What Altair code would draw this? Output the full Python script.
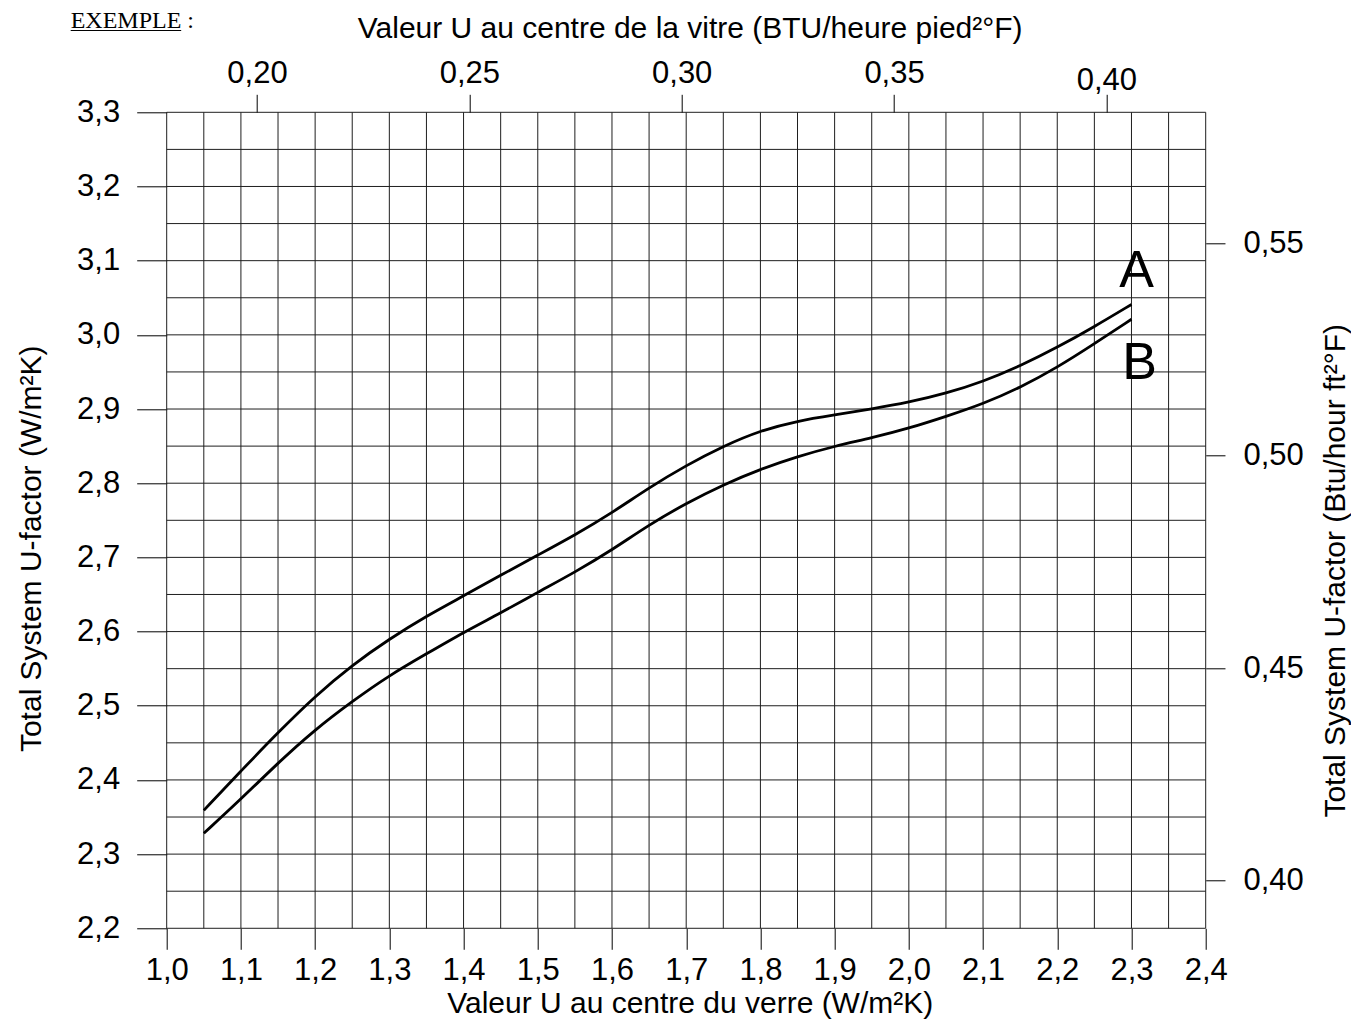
import altair as alt
import pandas as pd

# ---- data ----
w_centre = [1.05, 1.10, 1.15, 1.20, 1.25, 1.30, 1.35, 1.40, 1.45, 1.50, 1.55, 1.60, 1.65,
            1.70, 1.75, 1.80, 1.85, 1.90, 1.95, 2.00, 2.05, 2.10, 2.15, 2.20, 2.25, 2.30]
curve_a = [2.359, 2.412, 2.464, 2.513, 2.555, 2.590, 2.621, 2.648, 2.676, 2.703, 2.730, 2.760, 2.794,
           2.824, 2.850, 2.871, 2.884, 2.892, 2.900, 2.909, 2.921, 2.937, 2.958, 2.983, 3.011, 3.041]
curve_b = [2.328, 2.374, 2.423, 2.468, 2.506, 2.541, 2.570, 2.599, 2.625, 2.653, 2.680, 2.710, 2.744,
           2.773, 2.798, 2.819, 2.836, 2.850, 2.861, 2.874, 2.890, 2.907, 2.929, 2.956, 2.988, 3.021]

curve_names = ["A", "B"]
curve_label_x = [2.307, 2.311]
curve_label_y = [3.064, 2.941]

x_grid = [round(1.0 + 0.05 * i, 2) for i in range(29)]
y_grid = [round(2.2 + 0.05 * i, 2) for i in range(23)]
x_ticks = [round(1.0 + 0.1 * i, 1) for i in range(15)]
y_ticks = [round(2.2 + 0.1 * i, 1) for i in range(12)]
top_ticks = [0.20, 0.25, 0.30, 0.35, 0.40]
right_ticks = [0.40, 0.45, 0.50, 0.55]

X_DOMAIN = [1.0, 2.4]
Y_DOMAIN = [2.2, 3.3]
TOP_DOMAIN = [0.17874, 0.42338]
RIGHT_DOMAIN = [0.38875, 0.58084]

FONT = "Liberation Sans"
LBL = 31
TTL = 30
GRID = "#1e1e1e"

n = len(w_centre)
df = pd.DataFrame({
    "x": w_centre * 2,
    "u": curve_a + curve_b,
    "curve": ["A"] * n + ["B"] * n,
})
lab_df = pd.DataFrame({"x": curve_label_x, "u": curve_label_y, "name": curve_names})

comma1 = "replace(format(datum.value, '.1f'), '.', ',')"
comma2 = "replace(format(datum.value, '.2f'), '.', ',')"

x_axis = alt.Axis(
    orient="bottom", values=x_ticks, grid=False, domain=False,
    tickSize=21, tickColor="#000", tickWidth=1,
    labelExpr=comma1, labelFont=FONT, labelFontSize=LBL, labelColor="#000",
    labelBaseline="alphabetic", labelPadding=30.7, labelFlush=False, labelOverlap=False,
    labelBound=False,
    title="Valeur U au centre du verre (W/m²K)", titleFont=FONT, titleFontSize=TTL,
    titleFontWeight="normal", titleColor="#000", titleX=523, titleY=84,
    titleBaseline="alphabetic", titleAlign="center",
)
y_axis = alt.Axis(
    orient="left", values=y_ticks, grid=False, domain=False,
    tickSize=30, tickColor="#000", tickWidth=1,
    labelExpr=comma1, labelFont=FONT, labelFontSize=LBL, labelColor="#000",
    labelAlign="right", labelBaseline="middle", labelPadding=17, labelFlush=False,
    labelOverlap=False, labelBound=False,
    title="Total System U-factor (W/m²K)", titleFont=FONT, titleFontSize=TTL,
    titleFontWeight="normal", titleColor="#000", titleAngle=270, titleX=-126.5, titleY=436,
    titleBaseline="alphabetic", titleAlign="center",
)

xs = alt.Scale(domain=X_DOMAIN, nice=False, zero=False)
ys = alt.Scale(domain=Y_DOMAIN, nice=False, zero=False)

vgrid = alt.Chart(pd.DataFrame({"x": x_grid})).mark_rule(color=GRID, strokeWidth=1).encode(
    x=alt.X("x:Q", scale=xs, axis=x_axis)
)
hgrid = alt.Chart(pd.DataFrame({"u": y_grid})).mark_rule(color=GRID, strokeWidth=1).encode(
    y=alt.Y("u:Q", scale=ys, axis=y_axis)
)
lines = alt.Chart(df).mark_line(interpolate="basis", strokeWidth=2.8, color="#000").encode(
    x=alt.X("x:Q", scale=xs, axis=x_axis),
    y=alt.Y("u:Q", scale=ys, axis=y_axis),
    detail="curve:N",
)
labels = alt.Chart(lab_df).mark_text(font=FONT, fontSize=52, align="center",
                                     baseline="alphabetic", color="#000").encode(
    x=alt.X("x:Q", scale=xs, axis=x_axis), y=alt.Y("u:Q", scale=ys, axis=y_axis), text="name:N"
)
ex_df = pd.DataFrame({"t": ["EXEMPLE :"]})
exemple = alt.Chart(ex_df).mark_text(font="Liberation Serif", fontSize=24, align="left",
                                     baseline="alphabetic", color="#000").encode(
    x=alt.value(-96), y=alt.value(-84.5), text="t:N"
)
underline = alt.Chart(ex_df).mark_rule(color="#000", strokeWidth=1).encode(
    x=alt.value(-96), x2=alt.value(14.5), y=alt.value(-81.8)
)

main = alt.layer(vgrid, hgrid, lines, labels, exemple, underline)

top = alt.Chart(pd.DataFrame({"btu": top_ticks})).mark_point(opacity=0).encode(
    x=alt.X("btu:Q", scale=alt.Scale(domain=TOP_DOMAIN, nice=False, zero=False),
            axis=alt.Axis(
                orient="top", values=top_ticks, grid=False, domain=False,
                tickSize=18, tickColor="#000", tickWidth=1,
                labelExpr=comma2,
                labelFont=FONT, labelFontSize=LBL, labelColor="#000",
                labelBaseline="alphabetic",
                labelPadding={"condition": {"test": "datum.value > 0.39", "value": 4.6}, "value": 11.6},
                labelFlush=False, labelOverlap=False, labelBound=False,
                title="Valeur U au centre de la vitre (BTU/heure pied²°F)", titleFont=FONT,
                titleFontSize=TTL, titleFontWeight="normal", titleColor="#000",
                titleX=523, titleY=-75.3, titleBaseline="alphabetic", titleAlign="center",
            )),
    y=alt.value(0),
)

right = alt.Chart(pd.DataFrame({"btu": right_ticks})).mark_point(opacity=0).encode(
    y=alt.Y("btu:Q", scale=alt.Scale(domain=RIGHT_DOMAIN, nice=False, zero=False),
            axis=alt.Axis(
                orient="right", values=right_ticks, grid=False, domain=False,
                tickSize=19.3, tickColor="#000", tickWidth=1,
                labelExpr=comma2,
                labelFont=FONT, labelFontSize=LBL, labelColor="#000",
                labelAlign="left", labelBaseline="middle", labelPadding=18,
                labelFlush=False, labelOverlap=False, labelBound=False,
                title="Total System U-factor (Btu/hour ft²°F)", titleFont=FONT,
                titleFontSize=TTL, titleFontWeight="normal", titleColor="#000",
                titleAngle=270, titleX=139, titleY=458, titleBaseline="alphabetic",
                titleAlign="center",
            )),
    x=alt.value(0),
)

chart = alt.layer(main, top, right).resolve_scale(
    x="independent", y="independent"
).properties(
    width=1039, height=816,
    autosize=alt.AutoSizeParams(type="none"),
    padding={"left": 158.7, "top": 104.3, "right": 145, "bottom": 91},
    background="white",
).configure_view(stroke=None)

chart.save("out.html", embed_options={"renderer": "svg", "actions": False})
